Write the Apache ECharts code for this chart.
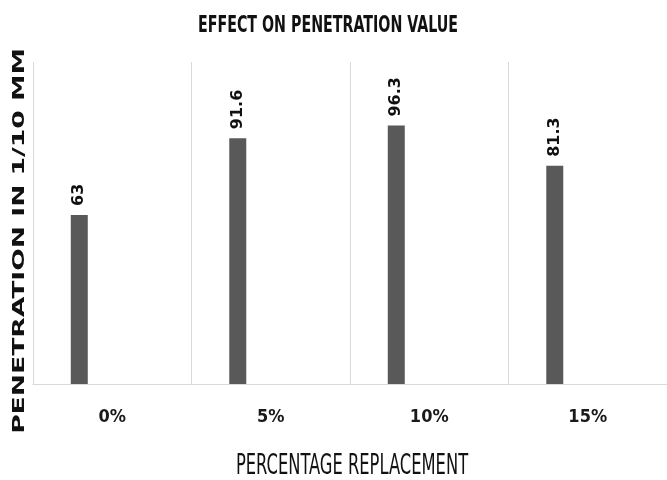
<!DOCTYPE html>
<html>
<head>
<meta charset="utf-8">
<script src="https://cdn.jsdelivr.net/npm/echarts@6/dist/echarts.min.js"></script>
<style>
html,body{margin:0;padding:0;background:#fff;}
#chart{width:667px;height:480px;}
</style>
</head>
<body>
<div id="chart"></div>
<script>
const categories = ['0%', '5%', '10%', '15%'];
const penetration = [63, 91.6, 96.3, 81.3];
const emptySeries = ['-', '-', '-', '-'];
const chartTitle = 'EFFECT ON PENETRATION VALUE';
const xTitle = 'PERCENTAGE REPLACEMENT';
const yTitle = 'PENETRATION IN 1/10 MM';

const chart = echarts.init(document.getElementById('chart'));
chart.setOption({
  backgroundColor: '#ffffff',
  animation: false,
  grid: { left: 33, top: 62, width: 639, height: 322 },
  xAxis: {
    type: 'category',
    data: categories,
    axisLine: { show: true, lineStyle: { color: '#d9d9d9', width: 1 } },
    axisTick: { show: false },
    splitLine: { show: true, lineStyle: { color: '#d9d9d9', width: 1 } },
    axisLabel: {
      margin: 24,
      color: '#1a1a1a',
      fontFamily: '"DejaVu Sans Condensed", "DejaVu Sans", sans-serif',
      fontWeight: 'bold',
      fontSize: 18
    }
  },
  yAxis: {
    type: 'value',
    min: 0,
    max: 120,
    show: true,
    axisLine: { show: false },
    axisTick: { show: false },
    axisLabel: { show: false },
    splitLine: { show: false }
  },
  series: [
    {
      type: 'bar',
      data: penetration,
      barWidth: 17,
      barGap: '288%',
      itemStyle: { color: '#595959' },
      label: {
        show: true,
        position: 'top',
        distance: 9,
        rotate: 90,
        align: 'left',
        verticalAlign: 'middle',
        color: '#111111',
        fontFamily: '"DejaVu Sans", sans-serif',
        fontWeight: 'bold',
        fontSize: 16
      }
    },
    {
      type: 'bar',
      data: emptySeries,
      barWidth: 17,
      barGap: '288%',
      itemStyle: { color: '#595959' }
    }
  ],
  graphic: [
    {
      type: 'text',
      x: 328, y: 26,
      scaleX: 0.833, scaleY: 1.25,
      style: {
        text: chartTitle,
        fill: '#111111',
        font: 'bold 19px "DejaVu Sans Condensed", "DejaVu Sans", sans-serif',
        textAlign: 'center',
        textVerticalAlign: 'middle'
      }
    },
    {
      type: 'text',
      x: 352, y: 467,
      scaleX: 0.955, scaleY: 1.45,
      style: {
        text: xTitle,
        fill: '#111111',
        font: '19px "DejaVu Sans Condensed", "DejaVu Sans", sans-serif',
        textAlign: 'center',
        textVerticalAlign: 'middle'
      }
    },
    {
      type: 'text',
      x: 20, y: 241,
      rotation: Math.PI / 2,
      scaleX: 1.66, scaleY: 1,
      style: {
        text: yTitle,
        fill: '#111111',
        font: 'bold 16px "DejaVu Sans", sans-serif',
        textAlign: 'center',
        textVerticalAlign: 'middle'
      }
    }
  ]
});
</script>
</body>
</html>
